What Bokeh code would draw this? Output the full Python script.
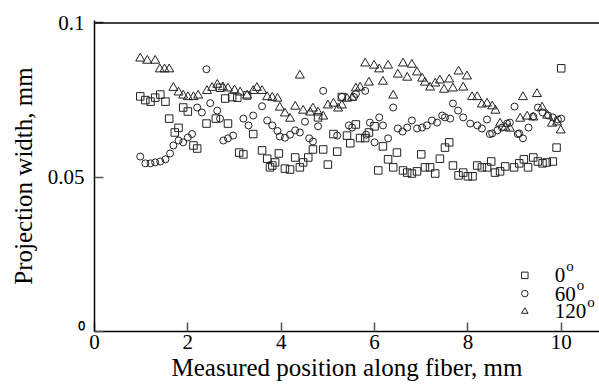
from bokeh.plotting import figure
from bokeh.models import Range1d, FixedTicker, Span, ColumnDataSource
from bokeh.core.properties import value
from bokeh.embed import file_html
from bokeh.resources import INLINE

# ---- data ----
sq_x = [0.98, 1.09, 1.2, 1.3, 1.41, 1.52, 1.6, 1.72, 1.8, 1.9, 2.0, 2.12, 2.2, 2.4, 2.6, 2.69, 2.8, 2.86,
        2.95, 3.06, 3.1, 3.19, 3.27, 3.4, 3.59, 3.7, 3.76, 3.81, 3.87, 3.95, 4.08, 4.19, 4.3, 4.4, 4.47,
        4.58, 4.68, 4.79, 4.9, 5.0, 5.12, 5.2, 5.3, 5.41, 5.48, 5.6, 5.69, 5.8, 5.88, 6.0, 6.08, 6.18,
        6.29, 6.4, 6.48, 6.61, 6.7, 6.8, 6.91, 7.0, 7.08, 7.19, 7.3, 7.4, 7.51, 7.6, 7.68, 7.8, 7.9, 8.0,
        8.1, 8.2, 8.3, 8.41, 8.5, 8.58, 8.69, 8.8, 8.99, 9.1, 9.2, 9.29, 9.4, 9.5, 9.6, 9.69, 9.82, 9.9, 10.0]
sq_y = [0.0762, 0.075, 0.0745, 0.0758, 0.0768, 0.0745, 0.069, 0.0645, 0.066, 0.0726, 0.0713, 0.0603, 0.0593,
        0.0674, 0.069, 0.079, 0.0755, 0.0674, 0.076, 0.0758, 0.058, 0.0574, 0.0765, 0.064, 0.0587, 0.056,
        0.0532, 0.0538, 0.0548, 0.0577, 0.0528, 0.0525, 0.0564, 0.0532, 0.0548, 0.0564, 0.059, 0.0694,
        0.059, 0.0541, 0.064, 0.0583, 0.076, 0.0635, 0.061, 0.0671, 0.0627, 0.0627, 0.0645, 0.0665, 0.0522,
        0.06, 0.0558, 0.0532, 0.058, 0.0522, 0.0515, 0.0512, 0.0519, 0.0574, 0.0532, 0.0532, 0.0512, 0.056,
        0.0596, 0.0613, 0.0538, 0.0506, 0.0515, 0.0503, 0.0503, 0.0538, 0.0532, 0.0532, 0.0551, 0.0515,
        0.0519, 0.0535, 0.0532, 0.0545, 0.0558, 0.0532, 0.0564, 0.0551, 0.0545, 0.0548, 0.0551, 0.0596, 0.0853]

ci_x = [0.98, 1.09, 1.2, 1.3, 1.41, 1.52, 1.62, 1.69, 1.8, 1.9, 2.0, 2.09, 2.2, 2.3, 2.4, 2.48, 2.63, 2.69,
        2.76, 2.86, 2.97, 3.19, 3.3, 3.4, 3.59, 3.7, 3.81, 3.92, 3.97, 4.08, 4.19, 4.3, 4.4, 4.51, 4.6, 4.68,
        4.79, 4.9, 5.2, 5.3, 5.45, 5.52, 5.56, 5.6, 5.8, 5.82, 5.9, 6.0, 6.1, 6.18, 6.29, 6.4, 6.5, 6.6, 6.7,
        6.8, 6.91, 7.02, 7.12, 7.23, 7.34, 7.45, 7.51, 7.62, 7.68, 7.79, 7.9, 8.05, 8.2, 8.3, 8.41, 8.47,
        8.52, 8.63, 8.73, 8.84, 8.9, 9.0, 9.07, 9.1, 9.18, 9.3, 9.4, 9.5, 9.6, 9.72, 9.82, 9.93, 10.0]
ci_y = [0.0567, 0.0545, 0.0545, 0.0548, 0.0551, 0.0558, 0.0577, 0.0603, 0.0619, 0.0613, 0.0629, 0.064, 0.0726,
        0.071, 0.085, 0.074, 0.0716, 0.069, 0.0619, 0.0626, 0.0635, 0.069, 0.0668, 0.07, 0.073, 0.0684,
        0.0668, 0.065, 0.0632, 0.0628, 0.0638, 0.0652, 0.0645, 0.068, 0.0626, 0.0616, 0.0665, 0.078,
        0.0635, 0.076, 0.0668, 0.0661, 0.076, 0.077, 0.078, 0.0638, 0.0677, 0.0613, 0.0694, 0.0668, 0.0626,
        0.0726, 0.0658, 0.0648, 0.0661, 0.0684, 0.0658, 0.0661, 0.0668, 0.0684, 0.0677, 0.07, 0.0694, 0.069,
        0.0739, 0.0716, 0.0694, 0.0674, 0.0668, 0.0658, 0.0687, 0.064, 0.0642, 0.0652, 0.0661, 0.0674,
        0.0677, 0.0729, 0.064, 0.0642, 0.0626, 0.0661, 0.0697, 0.0726, 0.071, 0.07, 0.0694, 0.0687, 0.069]

tr_x = [0.98, 1.13, 1.3, 1.4, 1.5, 1.6, 1.69, 1.8, 1.9, 2.0, 2.12, 2.22, 2.41, 2.52, 2.63, 2.75, 2.86, 3.0,
        3.12, 3.27, 3.4, 3.48, 3.59, 3.7, 3.81, 3.92, 3.97, 4.08, 4.19, 4.3, 4.4, 4.47, 4.62, 4.68, 4.79, 4.9,
        5.0, 5.12, 5.22, 5.3, 5.41, 5.52, 5.6, 5.69, 5.8, 5.88, 5.99, 6.1, 6.18, 6.29, 6.4, 6.5, 6.61, 6.7,
        6.8, 6.91, 7.02, 7.08, 7.19, 7.3, 7.4, 7.49, 7.6, 7.68, 7.8, 7.9, 7.98, 8.09, 8.2, 8.3, 8.41, 8.52,
        8.59, 8.69, 8.8, 8.9, 9.12, 9.18, 9.27, 9.4, 9.48, 9.59, 9.7, 9.8, 9.91, 9.99]
tr_y = [0.0885, 0.0878, 0.0878, 0.085, 0.085, 0.085, 0.079, 0.0775, 0.0765, 0.076, 0.076, 0.0765, 0.078,
        0.079, 0.08, 0.0792, 0.0788, 0.0782, 0.0775, 0.0765, 0.078, 0.079, 0.078, 0.076, 0.0758, 0.0755,
        0.0726, 0.0707, 0.069, 0.0729, 0.083, 0.0716, 0.071, 0.0723, 0.071, 0.0697, 0.0733, 0.0739, 0.0723,
        0.0733, 0.0755, 0.0758, 0.0788, 0.0791, 0.0869, 0.0807, 0.0862, 0.085, 0.081, 0.0862, 0.0765, 0.0833,
        0.0869, 0.0823, 0.0865, 0.084, 0.082, 0.0807, 0.0791, 0.0804, 0.0814, 0.0784, 0.0817, 0.0788, 0.0843,
        0.0791, 0.0827, 0.076, 0.076, 0.0736, 0.0739, 0.073, 0.0716, 0.0674, 0.0661, 0.0658, 0.069, 0.076,
        0.0697, 0.0694, 0.077, 0.0726, 0.07, 0.0674, 0.0678, 0.0652]

x_ticks = [0, 2, 4, 6, 8, 10]
y_ticks = [0, 0.05, 0.1]
y_tick_labels = {0: "\u2070", 0.05: "0.05", 0.1: "0.1"}
legend_labels = ["0", "60", "120"]
legend_markers = ["square", "circle", "triangle"]
legend_y = [0.0182, 0.0123, 0.0065]
y_top = 0.1

FONT = "Liberation Serif"
INK = "#222222"

p = figure(width=599, height=387, output_backend="svg", toolbar_location=None,
           x_range=Range1d(0, 10.82), y_range=Range1d(0, 0.1008),
           min_border_left=94, min_border_right=0, min_border_top=20, min_border_bottom=56)
p.outline_line_color = None
p.xgrid.visible = False
p.ygrid.visible = False
p.background_fill_color = "white"
p.border_fill_color = "white"

p.scatter(sq_x, sq_y, marker="square", size=7.5, fill_color=None, line_color=INK, line_width=1)
p.scatter(ci_x, ci_y, marker="circle", size=7, fill_color=None, line_color=INK, line_width=1)
p.scatter(tr_x, tr_y, marker="triangle", size=9, fill_color=None, line_color=INK, line_width=1)

# legend (custom, to allow superscript degree "o")
lx = [9.22] * 3
p.scatter(lx, legend_y, marker=legend_markers, size=6.5, fill_color=None, line_color=INK, line_width=1)
tsrc = ColumnDataSource(dict(x=[9.86] * 3, y=legend_y, t=legend_labels,
                             ox=[10.5 * len(s) + 1 for s in legend_labels]))
p.text(x="x", y="y", text="t", source=tsrc, text_font=value(FONT), text_font_size="21px",
       text_baseline="middle", text_align="left", text_color="black")
p.text(x="x", y="y", text=value("o"), x_offset="ox", y_offset=-9, source=tsrc, text_font=value(FONT),
       text_font_size="15px", text_baseline="middle", text_align="left", text_color="black")

# top border line
p.add_layout(Span(location=y_top, dimension="width", line_color="black", line_width=1.6))

# axes
xa = p.xaxis[0]
xa.ticker = FixedTicker(ticks=x_ticks)
xa.axis_label = "Measured position along fiber, mm"
ya = p.yaxis[0]
ya.ticker = FixedTicker(ticks=y_ticks)
ya.axis_label = "Projection width, mm"
ya.major_label_overrides = y_tick_labels
for ax in (xa, ya):
    ax.axis_line_color = "black"
    ax.axis_line_width = 1.5
    ax.major_tick_in = 9
    ax.major_tick_out = 0
    ax.major_tick_line_color = "#555555"
    ax.major_tick_line_width = 1.5
    ax.minor_tick_line_color = None
    ax.major_label_text_font = FONT
    ax.major_label_text_font_size = "21px"
    ax.major_label_text_color = "black"
    ax.axis_label_text_font = FONT
    ax.axis_label_text_font_size = "25px"
    ax.axis_label_text_font_style = "normal"
    ax.axis_label_text_color = "black"
xa.major_label_standoff = 3
ya.major_label_standoff = 10
xa.axis_label_standoff = 2
ya.axis_label_standoff = 8

open("out.html", "w").write(file_html(p, INLINE))
